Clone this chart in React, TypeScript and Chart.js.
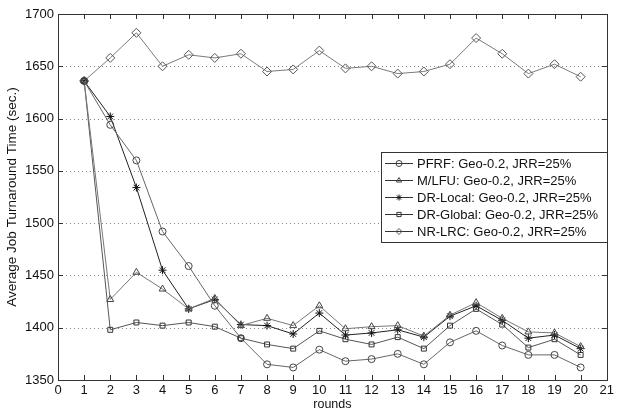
import React, { useEffect, useRef } from 'react';
import { Chart, registerables } from 'chart.js';
import { drawPoint } from 'chart.js/helpers';

Chart.register(...registerables);

const rounds = [1, 2, 3, 4, 5, 6, 7, 8, 9, 10, 11, 12, 13, 14, 15, 16, 17, 18, 19, 20];
const pfrf = [1636, 1594, 1560, 1492, 1459, 1421, 1390, 1365, 1362, 1379, 1368, 1370, 1375, 1365, 1386, 1397, 1383, 1374, 1374, 1362];
const mlfu = [1636, 1427, 1453, 1437, 1418, 1428, 1402, 1409, 1402, 1421, 1399, 1401, 1402, 1392, 1412, 1424, 1409, 1396, 1395, 1382];
const drLocal = [1636, 1602, 1534, 1455, 1418, 1427, 1403, 1402, 1394, 1414, 1393, 1395, 1398, 1391, 1411, 1421, 1407, 1390, 1393, 1380];
const drGlobal = [1636, 1398, 1405, 1402, 1405, 1401, 1390, 1384, 1380, 1397, 1389, 1384, 1391, 1380, 1402, 1418, 1403, 1381, 1389, 1374];
const nrLrc = [1636, 1658, 1682, 1650, 1661, 1658, 1662, 1645, 1647, 1665, 1648, 1650, 1643, 1645, 1652, 1677, 1662, 1643, 1652, 1640];

const seriesLabels = [
  'PFRF: Geo-0.2, JRR=25%',
  'M/LFU: Geo-0.2, JRR=25%',
  'DR-Local: Geo-0.2, JRR=25%',
  'DR-Global: Geo-0.2, JRR=25%',
  'NR-LRC: Geo-0.2, JRR=25%',
];
const seriesValues = [pfrf, mlfu, drLocal, drGlobal, nrLrc];
const seriesStyles = ['circle', 'triangle', 'star', 'rect', 'rectRot'];
const seriesRadius = [3.5, 4, 4, 3.5, 4.5];
const lineColors = ['#666666', '#777777', '#222222', '#555555', '#7a7a7a'];
const markerColors = ['#444444', '#444444', '#111111', '#333333', '#555555'];

const xTicks = { min: 0, max: 21, step: 1 };
const yTicks = { min: 1350, max: 1700, step: 50 };

const FONT = '"Liberation Sans", Arial, sans-serif';

const gridPlugin = {
  id: 'dottedGrid',
  beforeDatasetsDraw(chart: any) {
    const { ctx, chartArea } = chart;
    const ys = chart.scales.y;
    const { left, right } = chartArea;
    ctx.save();
    ctx.strokeStyle = '#888888';
    ctx.lineWidth = 1;
    ctx.setLineDash([1, 3]);
    ctx.beginPath();
    for (let v = yTicks.min + yTicks.step; v < yTicks.max; v += yTicks.step) {
      const py = Math.round(ys.getPixelForValue(v)) + 0.5;
      ctx.moveTo(left, py);
      ctx.lineTo(right, py);
    }
    ctx.stroke();
    ctx.restore();
  },
};

const framePlugin = {
  id: 'matlabFrame',
  afterDraw(chart: any) {
    const { ctx, chartArea } = chart;
    const xs = chart.scales.x;
    const ys = chart.scales.y;
    const { left, right, top, bottom } = chartArea;
    ctx.save();
    ctx.strokeStyle = '#333333';
    ctx.lineWidth = 1;
    ctx.beginPath();
    for (let v = xTicks.min; v <= xTicks.max; v += xTicks.step) {
      const px = Math.round(xs.getPixelForValue(v)) + 0.5;
      ctx.moveTo(px, bottom);
      ctx.lineTo(px, bottom - 5);
      ctx.moveTo(px, top);
      ctx.lineTo(px, top + 5);
    }
    for (let v = yTicks.min; v <= yTicks.max; v += yTicks.step) {
      const py = Math.round(ys.getPixelForValue(v)) + 0.5;
      ctx.moveTo(left, py);
      ctx.lineTo(left + 5, py);
      ctx.moveTo(right, py);
      ctx.lineTo(right - 5, py);
    }
    ctx.stroke();
    ctx.strokeRect(Math.round(left) + 0.5, Math.round(top) + 0.5, Math.round(right - left), Math.round(bottom - top));

    // legend box
    const bx = 381, by = 152, bw = 226, bh = 90;
    ctx.fillStyle = '#ffffff';
    ctx.fillRect(bx, by, bw, bh);
    ctx.strokeStyle = '#333333';
    ctx.strokeRect(bx + 0.5, by + 0.5, bw, bh);
    ctx.font = '13px ' + FONT;
    ctx.textBaseline = 'middle';
    ctx.textAlign = 'left';
    seriesLabels.forEach((lab, i) => {
      const yy = by + 11.5 + i * 17;
      ctx.strokeStyle = '#333333';
      ctx.lineWidth = 1;
      ctx.beginPath();
      ctx.moveTo(bx + 4, yy);
      ctx.lineTo(bx + 32, yy);
      ctx.stroke();
      ctx.strokeStyle = markerColors[i];
      ctx.fillStyle = 'rgba(0,0,0,0)';
      drawPoint(ctx, { pointStyle: seriesStyles[i], radius: 3, rotation: 0, borderWidth: 1 } as any, bx + 18, yy);
      ctx.fillStyle = '#111111';
      ctx.fillText(lab, bx + 36, yy + 0.5);
    });
    ctx.restore();
  },
};

export default function App() {
  const ref = useRef<HTMLCanvasElement>(null);
  useEffect(() => {
    document.body.style.margin = '0';
    const canvas = ref.current;
    if (!canvas) return;
    const chart = new Chart(canvas, {
      type: 'line',
      data: {
        datasets: seriesLabels.map((lab, i) => ({
          label: lab,
          data: rounds.map((r, j) => ({ x: r, y: seriesValues[i][j] })),
          borderColor: lineColors[i],
          borderWidth: 1,
          pointStyle: seriesStyles[i] as any,
          pointRadius: seriesRadius[i],
          pointBorderColor: markerColors[i],
          pointBackgroundColor: 'rgba(0,0,0,0)',
          pointBorderWidth: 1,
          tension: 0,
          fill: false,
        })),
      },
      options: {
        responsive: false,
        animation: false,
        layout: { padding: { top: 14, right: 5, left: 0, bottom: 0 } },
        plugins: { legend: { display: false }, tooltip: { enabled: false } },
        scales: {
          x: {
            type: 'linear',
            min: xTicks.min,
            max: xTicks.max,
            afterFit: (s: any) => { s.height = 34; },
            ticks: {
              stepSize: xTicks.step,
              autoSkip: false,
              maxRotation: 0,
              color: '#111111',
              font: { family: FONT, size: 13 },
              padding: 3,
              callback: (v: any) => String(v),
            },
            grid: { display: false, drawTicks: false },
            border: { display: false },
            title: {
              display: true,
              text: 'rounds',
              color: '#111111',
              font: { family: FONT, size: 12.5 },
              padding: { top: 0, bottom: 2 },
            },
          },
          y: {
            type: 'linear',
            min: yTicks.min,
            max: yTicks.max,
            afterFit: (s: any) => { s.width = 58; },
            ticks: {
              stepSize: yTicks.step,
              color: '#111111',
              font: { family: FONT, size: 13 },
              padding: 4,
              callback: (v: any) => String(v),
            },
            grid: { display: false, drawTicks: false },
            border: { display: false },
            title: {
              display: true,
              text: 'Average Job Turnaround Time (sec.)',
              color: '#111111',
              font: { family: FONT, size: 13.5 },
              padding: { top: 4, bottom: 0 },
            },
          },
        },
      },
      plugins: [gridPlugin, framePlugin],
    });
    return () => chart.destroy();
  }, []);
  return (
    <div style={{ width: 617, height: 414, background: '#ffffff' }}>
      <canvas ref={ref} width={617} height={414} />
    </div>
  );
}
